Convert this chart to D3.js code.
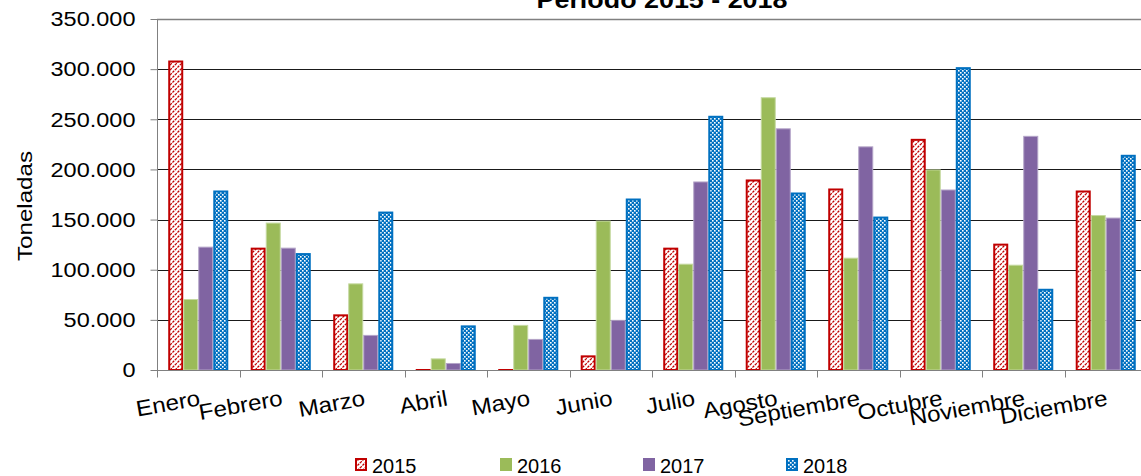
<!DOCTYPE html>
<html>
<head>
<meta charset="utf-8">
<script src="https://cdn.jsdelivr.net/npm/d3@7"></script>
<style>
  body { margin: 0; background: #fff; }
  svg { display: block; font-family: "Liberation Sans", Arial, sans-serif; }
</style>
</head>
<body>
<div id="chart"></div>
<script>
const months = ["Enero", "Febrero", "Marzo", "Abril", "Mayo", "Junio", "Julio",
    "Agosto", "Septiembre", "Octubre", "Noviembre", "Diciembre"];
const years = ["2015", "2016", "2017", "2018"];
const values2015 = [308600, 122000, 55500, 1000, 1000, 14600, 122000, 190000, 181000, 230500, 126000, 179000];
const values2016 = [70800, 147000, 86400, 11600, 45000, 149000, 106000, 272000, 112000, 200000, 105000, 154500];
const values2017 = [123000, 122000, 35000, 7000, 31000, 50000, 188000, 241000, 223000, 180000, 233500, 152000];
const values2018 = [179000, 116600, 158000, 44500, 73000, 171000, 253500, 177000, 153000, 302000, 81000, 214600];
const yTicks = [0, 50000, 100000, 150000, 200000, 250000, 300000, 350000];
const series = [values2015, values2016, values2017, values2018];

const width = 1141;
const height = 476;
const plotLeft = 157, plotRight = 1147, plotTop = 19, plotBottom = 370;

const svg = d3.select("#chart")
    .append("svg")
    .attr("width", width)
    .attr("height", height);

// patterns
const defs = svg.append("defs");
const stripes = defs.append("pattern")
    .attr("id", "stripes")
    .attr("patternUnits", "userSpaceOnUse")
    .attr("width", 5).attr("height", 5);
stripes.append("rect").attr("width", 5).attr("height", 5).attr("fill", "#fff");
stripes.append("path")
    .attr("d", "M0,5 L5,0 M-1,1 L1,-1 M4,6 L6,4")
    .attr("stroke", "#C00000")
    .attr("stroke-width", 1.2)
    .attr("stroke-dasharray", "2.5,1");

const checker = defs.append("pattern")
    .attr("id", "checker")
    .attr("patternUnits", "userSpaceOnUse")
    .attr("width", 4).attr("height", 4);
checker.append("rect").attr("width", 4).attr("height", 4).attr("fill", "#0070C0");
checker.append("rect").attr("x", 0).attr("y", 0).attr("width", 1.6).attr("height", 1.6).attr("fill", "#fff");
checker.append("rect").attr("x", 2).attr("y", 2).attr("width", 1.6).attr("height", 1.6).attr("fill", "#fff");

const styles = [
    { fill: "url(#stripes)", stroke: "#C00000", sw: 2 },
    { fill: "#9BBB59", stroke: "#c5d9a0", sw: 1 },
    { fill: "#8064A2", stroke: "#b4a4c8", sw: 1 },
    { fill: "url(#checker)", stroke: "#0070C0", sw: 2 }
];

const x0 = d3.scaleBand().domain(months).range([plotLeft, plotRight]);
const bw = x0.bandwidth();
const x1 = d3.scaleBand().domain(years).range([bw * 0.136, bw * 0.864]);
const y = d3.scaleLinear().domain([0, 350000]).range([plotBottom, plotTop]);

// gridlines
svg.append("g")
    .selectAll("line")
    .data(yTicks.filter(d => d > 0))
    .enter()
    .append("line")
    .attr("x1", plotLeft).attr("x2", width)
    .attr("y1", d => Math.round(y(d)) + 0.5)
    .attr("y2", d => Math.round(y(d)) + 0.5)
    .attr("stroke", d => d === 350000 ? "#808080" : "#1a1a1a")
    .attr("stroke-width", d => d === 350000 ? 1.5 : 1);

// bars
years.forEach((yr, i) => {
    const st = styles[i];
    const inset = st.sw / 2;
    svg.append("g")
        .selectAll("rect")
        .data(series[i])
        .enter()
        .append("rect")
        .attr("x", (d, j) => x0(months[j]) + x1(yr) + inset)
        .attr("y", d => y(d) + inset)
        .attr("width", x1.bandwidth() - st.sw)
        .attr("height", d => Math.max(0, plotBottom - y(d) - inset))
        .attr("fill", st.fill)
        .attr("stroke", st.stroke)
        .attr("stroke-width", st.sw);
});

// y axis
const yAxis = d3.axisLeft(y)
    .tickValues(yTicks)
    .tickSize(7)
    .tickPadding(14)
    .tickFormat(d => d3.format(",")(d).replace(/,/g, "."));

const gy = svg.append("g")
    .attr("transform", `translate(${plotLeft + 0.5},0)`)
    .call(yAxis);
gy.select(".domain").attr("stroke", "#808080").attr("d", `M0,${plotTop}V${plotBottom}`);
gy.selectAll(".tick line").attr("stroke", "#808080");
gy.selectAll(".tick text")
    .attr("x", 0)
    .attr("transform", "translate(-22,0) scale(1.12,1)")
    .attr("font-size", 21)
    .attr("fill", "#000")
    .attr("font-family", "Liberation Sans, Arial, sans-serif");

// x axis
const xAxis = d3.axisBottom(x0).tickSize(0).tickFormat("");
const gx = svg.append("g")
    .attr("transform", `translate(0,${plotBottom + 0.5})`)
    .call(xAxis);
gx.select(".domain").attr("stroke", "#808080").attr("d", `M${plotLeft},0H${width}`);
gx.selectAll(".tickmark")
    .data(months)
    .enter()
    .append("line")
    .attr("class", "tickmark")
    .attr("x1", d => Math.round(x0(d)) + 0.5)
    .attr("x2", d => Math.round(x0(d)) + 0.5)
    .attr("y1", 0).attr("y2", 7)
    .attr("stroke", "#808080");

svg.append("g")
    .selectAll("text")
    .data(months)
    .enter()
    .append("text")
    .attr("transform", d => `translate(${x0(d) + bw / 2},389) rotate(-10) scale(1.1,1)`)
    .attr("text-anchor", "end")
    .attr("dy", "0.75em")
    .attr("font-size", 22)
    .text(d => d);

// y label
svg.append("text")
    .attr("transform", "translate(32,206) rotate(-90) scale(1.15,1)")
    .attr("text-anchor", "middle")
    .attr("font-size", 21)
    .text("Toneladas");

// title
svg.append("text")
    .attr("transform", "translate(662,8) scale(1.12,1)")
    .attr("text-anchor", "middle")
    .attr("font-size", 24)
    .attr("font-weight", "bold")
    .text("Periodo  2015 - 2018");

// legend
const legend = svg.append("g");
const legendX = [355, 500, 643, 786];
years.forEach((yr, i) => {
    const st = styles[i];
    const item = legend.append("g").attr("transform", `translate(${legendX[i]},458)`);
    item.append("rect")
        .attr("x", st.sw === 2 ? 1 : 0).attr("y", st.sw === 2 ? 1 : 0)
        .attr("width", st.sw === 2 ? 10 : 12).attr("height", st.sw === 2 ? 11 : 13)
        .attr("fill", st.fill)
        .attr("stroke", st.sw === 2 ? st.stroke : "none")
        .attr("stroke-width", st.sw);
    item.append("text")
        .attr("x", 17).attr("y", 15)
        .attr("font-size", 20)
        .text(yr);
});
</script>
</body>
</html>
